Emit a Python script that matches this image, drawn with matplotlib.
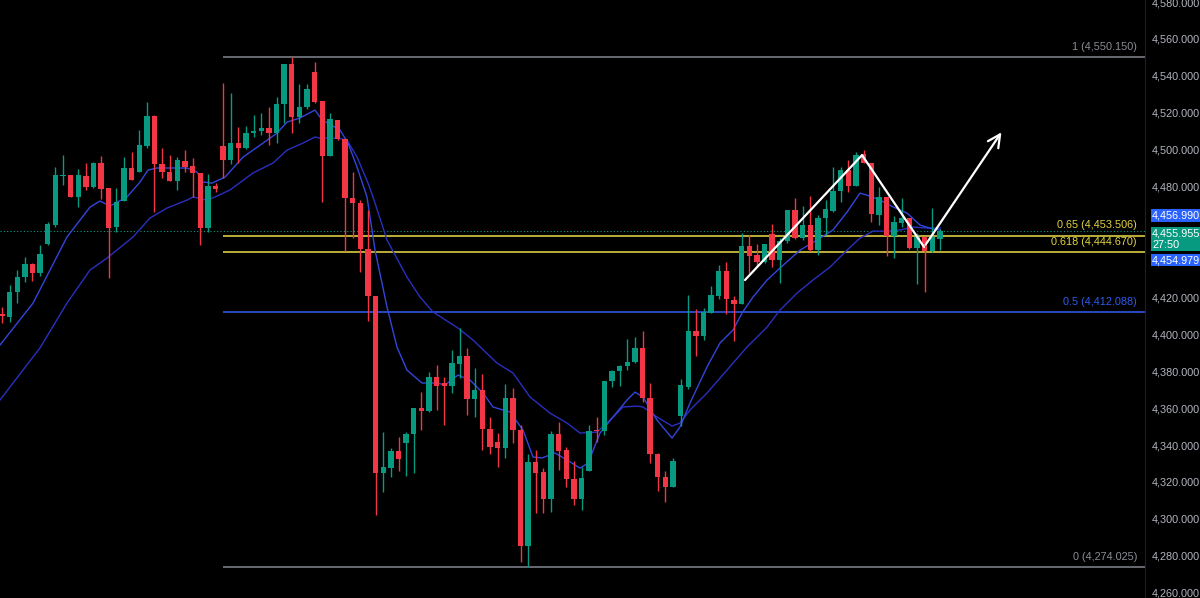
"""Candlestick chart with fib retracement levels, two moving averages and a zigzag projection."""

import matplotlib

matplotlib.use("Agg")
import matplotlib.pyplot as plt
from matplotlib.ticker import FuncFormatter

# OHLC per bar
opens = [
    4411.0, 4409.3, 4422.9, 4431.0, 4438.1, 4433.2, 4448.9, 4459.2, 4485.7, 4486.3,
    4474.4, 4485.7, 4479.8, 4492.8, 4479.2, 4458.1, 4472.2, 4490.1, 4487.9, 4502.0,
    4518.3, 4492.2, 4487.9, 4483.0, 4493.9, 4491.2, 4487.4, 4457.6, 4480.3, 4502.0,
    4494.4, 4503.6, 4500.9, 4509.0, 4510.1, 4511.7, 4509.0, 4524.8, 4546.4, 4517.7,
    4523.1, 4542.1, 4526.4, 4496.6, 4516.1, 4505.8, 4473.8, 4471.1, 4446.2, 4420.7,
    4324.8, 4327.5, 4336.7, 4341.1, 4346.0, 4360.0, 4358.4, 4376.8, 4373.6, 4372.0,
    4383.9, 4388.2, 4364.9, 4369.8, 4348.7, 4341.6, 4338.4, 4365.5, 4348.1, 4285.3,
    4330.8, 4325.4, 4310.7, 4346.0, 4337.3, 4321.6, 4310.7, 4325.9, 4348.1, 4347.6,
    4374.7, 4380.1, 4382.8, 4385.0, 4392.6, 4365.5, 4335.1, 4322.7, 4317.2, 4355.7,
    4371.4, 4401.8, 4399.0, 4411.5, 4420.7, 4434.3, 4418.6, 4416.4, 4447.8, 4442.9,
    4439.1, 4454.3, 4440.2, 4450.5, 4467.3, 4452.1, 4459.2, 4445.6, 4463.0, 4466.8,
    4477.6, 4489.0, 4480.3, 4497.7, 4492.8, 4464.6, 4474.4, 4453.2, 4460.3, 4463.0,
    4446.7, 4452.7, 4445.1, 4451.6,
]
highs = [
    4414.8, 4426.7, 4434.8, 4441.9, 4438.6, 4448.4, 4460.8, 4490.6, 4497.1, 4486.5,
    4489.5, 4492.8, 4493.3, 4496.6, 4479.5, 4479.2, 4496.0, 4498.7, 4510.7, 4525.8,
    4518.6, 4500.9, 4497.1, 4496.0, 4499.8, 4495.5, 4487.6, 4486.8, 4482.0, 4536.1,
    4530.7, 4512.3, 4512.8, 4518.8, 4519.9, 4523.1, 4528.5, 4546.6, 4550.1, 4535.6,
    4535.6, 4547.5, 4526.6, 4519.9, 4516.3, 4506.3, 4487.9, 4472.7, 4467.3, 4421.0,
    4347.0, 4338.4, 4344.3, 4347.0, 4360.2, 4368.7, 4379.5, 4383.3, 4376.8, 4391.5,
    4403.4, 4392.6, 4381.7, 4378.5, 4355.2, 4346.5, 4373.0, 4370.9, 4350.8, 4335.1,
    4337.3, 4327.5, 4347.6, 4352.5, 4338.9, 4331.3, 4328.1, 4350.8, 4355.2, 4374.9,
    4380.6, 4383.3, 4397.4, 4398.5, 4401.8, 4373.6, 4335.6, 4325.9, 4333.0, 4375.8,
    4421.3, 4413.7, 4414.2, 4426.1, 4437.5, 4439.1, 4420.7, 4454.9, 4453.8, 4448.9,
    4449.1, 4459.7, 4452.1, 4467.5, 4473.8, 4469.5, 4474.9, 4464.6, 4472.7, 4490.6,
    4490.6, 4494.4, 4498.7, 4499.8, 4493.0, 4479.8, 4474.6, 4464.1, 4473.8, 4463.2,
    4454.9, 4453.2, 4468.4, 4457.0,
]
lows = [
    4406.1, 4406.6, 4416.9, 4428.3, 4428.9, 4431.6, 4448.4, 4458.1, 4480.9, 4474.2,
    4468.9, 4478.2, 4479.2, 4473.3, 4430.5, 4455.4, 4472.0, 4483.4, 4487.7, 4500.9,
    4466.2, 4484.7, 4482.8, 4478.2, 4487.9, 4474.4, 4448.4, 4455.4, 4477.1, 4484.7,
    4492.2, 4492.8, 4500.4, 4506.9, 4508.0, 4502.5, 4503.6, 4514.5, 4509.0, 4514.5,
    4522.0, 4525.3, 4471.7, 4496.4, 4505.2, 4445.1, 4452.1, 4433.7, 4407.2, 4302.1,
    4314.5, 4322.7, 4325.9, 4323.2, 4324.8, 4348.1, 4357.9, 4359.0, 4350.8, 4368.2,
    4376.3, 4356.2, 4355.2, 4337.3, 4335.1, 4328.1, 4333.0, 4341.1, 4276.6, 4274.0,
    4303.2, 4303.2, 4303.7, 4326.4, 4317.2, 4307.5, 4304.8, 4325.7, 4341.6, 4345.4,
    4371.4, 4372.0, 4380.6, 4384.4, 4363.3, 4330.2, 4315.1, 4309.1, 4317.0, 4350.3,
    4370.3, 4388.2, 4396.9, 4411.3, 4419.1, 4411.0, 4396.3, 4416.2, 4433.2, 4436.4,
    4438.6, 4436.4, 4427.8, 4449.4, 4451.6, 4451.0, 4445.1, 4442.9, 4453.8, 4466.2,
    4471.7, 4477.1, 4480.1, 4492.6, 4460.8, 4459.2, 4442.4, 4441.3, 4458.1, 4446.2,
    4427.2, 4422.9, 4444.6, 4445.6,
]
closes = [
    4409.9, 4422.9, 4431.0, 4438.1, 4433.2, 4443.5, 4459.7, 4486.3, 4486.0, 4474.4,
    4486.3, 4479.8, 4492.8, 4478.7, 4457.6, 4471.7, 4490.1, 4483.6, 4502.5, 4518.3,
    4492.2, 4487.9, 4483.0, 4494.4, 4490.6, 4487.4, 4457.6, 4480.3, 4478.7, 4494.4,
    4503.6, 4500.9, 4509.0, 4510.1, 4511.7, 4509.0, 4524.8, 4546.4, 4517.7, 4523.1,
    4532.9, 4525.8, 4496.6, 4516.6, 4505.8, 4473.8, 4471.1, 4446.2, 4420.7, 4324.8,
    4328.1, 4336.7, 4332.4, 4346.0, 4360.0, 4358.4, 4376.8, 4372.0, 4372.0, 4384.4,
    4388.2, 4364.9, 4369.8, 4348.7, 4338.9, 4338.4, 4365.5, 4348.1, 4285.3, 4330.8,
    4324.8, 4310.7, 4346.0, 4336.7, 4321.6, 4310.7, 4322.1, 4347.6, 4347.6, 4374.7,
    4380.1, 4382.8, 4385.0, 4392.6, 4365.5, 4335.1, 4322.7, 4317.2, 4331.3, 4372.5,
    4401.8, 4399.0, 4412.1, 4421.3, 4434.3, 4419.1, 4416.4, 4447.8, 4442.4, 4439.1,
    4448.9, 4440.2, 4450.5, 4467.3, 4452.1, 4459.2, 4445.6, 4463.0, 4467.9, 4477.6,
    4489.0, 4480.3, 4497.1, 4492.8, 4465.2, 4474.4, 4453.2, 4460.8, 4463.0, 4446.7,
    4452.7, 4445.1, 4452.7, 4455.955,
]

# moving averages, sampled along the drawn lines (bar position, price)
ma_fast_bar = [
    -0.26, 4.07, 8.52, 11.54, 12.85, 14.16, 16.39, 18.10, 19.15, 20.33, 24.26, 25.57,
    26.36, 27.54, 29.25, 31.61, 34.23, 36.07, 37.38, 39.08, 41.05, 41.97, 44.33, 45.38,
    46.56, 47.87, 48.92, 50.49, 51.80, 53.11, 55.08, 57.05, 58.10, 59.80, 61.38, 63.08,
    64.39, 66.62, 68.33, 69.64, 70.82, 72.52, 74.10, 75.80, 76.85, 78.43, 80.13, 81.97,
    83.02, 84.07, 85.90, 87.87, 88.92, 90.23, 92.46, 94.16, 95.87, 97.05, 98.49, 100.33,
    102.03, 104.66, 106.89, 108.98, 110.82, 112.52, 113.44, 115.15, 116.85, 118.69,
    120.39, 122.10, 123.02,
]
ma_fast_val = [
    4394.2, 4416.9, 4452.7, 4468.9, 4472.2, 4469.5, 4474.4, 4482.5, 4489.0, 4490.1, 4490.1, 4487.9,
    4482.5, 4481.9, 4485.2, 4496.0, 4503.6, 4509.0, 4515.0, 4517.2, 4521.5, 4516.1, 4510.7, 4503.6,
    4490.6, 4474.4, 4445.6, 4414.8, 4393.1, 4380.6, 4373.6, 4373.6, 4372.5, 4377.9, 4375.2, 4368.2,
    4360.6, 4357.9, 4348.1, 4333.5, 4333.0, 4335.7, 4331.9, 4327.5, 4330.2, 4346.5, 4355.2, 4364.4,
    4368.7, 4366.0, 4353.5, 4343.8, 4349.8, 4362.8, 4382.3, 4395.3, 4402.3, 4411.5, 4420.2, 4429.4,
    4435.9, 4445.6, 4451.1, 4456.5, 4466.2, 4476.5, 4475.4, 4472.7, 4469.0, 4465.7,
    4459.2, 4457.0, 4456.5,
]
ma_slow_bar = [
    -0.26, 4.98, 8.52, 11.54, 13.77, 17.18, 19.41, 21.64, 24.26, 25.05, 26.89, 27.93,
    29.90, 32.92, 35.54, 37.38, 39.48, 41.05, 41.70, 44.07, 45.25, 46.56, 48.00, 48.66,
    50.49, 53.11, 54.82, 56.52, 59.80, 61.77, 64.92, 67.02, 69.25, 71.87, 74.10, 75.80,
    78.03, 79.74, 81.44, 83.28, 84.07, 85.90, 87.87, 88.92, 90.23, 92.46, 95.08, 97.70,
    100.33, 102.03, 104.26, 106.36, 108.59, 110.82, 112.52, 114.23, 116.07, 117.77,
    119.48, 121.31, 123.02,
]
ma_slow_val = [
    4364.4, 4392.6, 4416.9, 4434.8, 4441.3, 4452.7, 4463.0, 4468.4, 4472.7, 4474.4, 4472.7, 4474.4,
    4478.2, 4487.4, 4492.8, 4499.8, 4503.6, 4506.9, 4506.3, 4506.3, 4505.2, 4496.0, 4482.0, 4474.4,
    4451.1, 4431.0, 4420.2, 4412.1, 4403.4, 4396.9, 4384.4, 4379.0, 4366.0, 4357.3, 4351.9, 4346.5,
    4347.0, 4353.5, 4360.6, 4361.1, 4360.6, 4355.2, 4350.3, 4351.9, 4359.0, 4368.2, 4380.6, 4393.1,
    4403.9, 4413.1, 4422.3, 4429.4, 4436.4, 4445.6, 4452.1, 4455.9, 4455.9, 4456.5,
    4458.1, 4457.6, 4457.6,
]

# fibonacci retracement drawn from the high to the low
fib_ratios = ["1", "0.65", "0.618", "0.5", "0"]
fib_prices = [4550.150, 4453.506, 4444.670, 4412.088, 4274.025]
fib_colors = ["#70737b", "#c9bc3f", "#c9bc3f", "#2b4fd0", "#70737b"]
fib_text_colors = ["#8b8e96", "#e3d443", "#e3d443", "#2f5cf0", "#8b8e96"]
fib_start_bar = 29

# hand-drawn zigzag with arrow (bar position, price)
zigzag_bar = [97.44, 112.79, 120.92]
zigzag_price = [4429.4, 4497.1, 4447.3]
arrow_tip_bar = 131.28
arrow_tip_price = 4510.7

last_price = 4455.955
countdown = "27:50"
bid_price = 4456.990
ask_price = 4454.979

UP = "#089981"
DOWN = "#f23645"
BG = "#000000"


def main() -> None:
    fig = plt.figure(figsize=(12, 5.98), dpi=100, facecolor=BG)
    ax = fig.add_axes([0, 0, 1145 / 1200, 1], facecolor=BG)

    n = len(closes)
    xs = list(range(n))
    colors = [UP if c >= o else DOWN for o, c in zip(opens, closes)]
    bottoms = [min(o, c) for o, c in zip(opens, closes)]
    heights = [max(abs(c - o), 0.6) for o, c in zip(opens, closes)]

    ax.vlines(xs, lows, highs, colors=colors, linewidth=1.0, zorder=3)
    ax.bar(xs, heights, bottom=bottoms, width=0.7, color=colors, linewidth=0, zorder=4)

    ax.plot(ma_slow_bar, ma_slow_val, color="#2a2fc0", linewidth=1.0, zorder=2)
    ax.plot(ma_fast_bar, ma_fast_val, color="#3346dc", linewidth=1.0, zorder=2)

    x_min, x_max = -0.262, 149.9
    for ratio, price, col, tcol in zip(fib_ratios, fib_prices, fib_colors, fib_text_colors):
        ax.hlines(price, fib_start_bar, x_max, color=col, linewidth=1.3, zorder=1)
        ax.annotate(
            f"{ratio} ({price:,.3f})",
            xy=(0.993, price), xycoords=("axes fraction", "data"),
            xytext=(0, 7.3), textcoords="offset points",
            ha="right", va="center", color=tcol, fontsize=7.8, family="Liberation Sans",
        )

    ax.axhline(last_price, color=UP, linewidth=0.8, linestyle=(0, (1, 2)), zorder=1)

    ax.plot(zigzag_bar, zigzag_price, color="white", linewidth=1.6, zorder=5,
            solid_capstyle="round")
    ax.annotate(
        "", xy=(arrow_tip_bar, arrow_tip_price), xytext=(zigzag_bar[-1], zigzag_price[-1]),
        arrowprops=dict(arrowstyle="->,head_length=0.9,head_width=0.45", color="white", lw=1.6),
        zorder=5,
    )

    ax.set_xlim(x_min, x_max)
    ax.set_ylim(4257.12, 4581.13)
    ax.set_xticks([])
    ax.yaxis.tick_right()
    ax.set_yticks(range(4260, 4581, 20))
    ax.yaxis.set_major_formatter(FuncFormatter(lambda v, _: f"{v:,.3f}"))
    ax.tick_params(axis="y", length=0, pad=5.2, labelcolor="#b2b5be", labelsize=7.8)
    fig.canvas.draw()
    for tick_value, label in zip(ax.get_yticks(), ax.get_yticklabels()):
        label.set_family("Liberation Sans")
        # the scale label sitting under the price boxes is hidden by them
        if abs(tick_value - last_price) < 10:
            label.set_visible(False)
    for side in ("top", "left", "bottom"):
        ax.spines[side].set_visible(False)
    ax.spines["right"].set_color("#1c1f26")
    ax.spines["right"].set_linewidth(0.8)

    # price boxes on the scale
    box_kw = dict(xycoords=("axes fraction", "data"), textcoords="offset points",
                  ha="left", va="center", fontsize=7.8, family="Liberation Sans",
                  color="white", annotation_clip=False)
    ax.annotate(f"{bid_price:,.3f}", xy=(1, bid_price), xytext=(5.2, 9.6),
                bbox=dict(boxstyle="square,pad=0.12", fc="#2962ff", ec="none"), **box_kw)
    ax.annotate(f"{last_price:,.3f}\n{countdown}", xy=(1, last_price), xytext=(5.2, -5.6),
                linespacing=1.2,
                bbox=dict(boxstyle="square,pad=0.12", fc=UP, ec="none"), **box_kw)
    ax.annotate(f"{ask_price:,.3f}", xy=(1, ask_price), xytext=(5.2, -19.6),
                bbox=dict(boxstyle="square,pad=0.12", fc="#2962ff", ec="none"), **box_kw)

    fig.savefig("out.png", dpi=100, facecolor=BG)


if __name__ == "__main__":
    main()
